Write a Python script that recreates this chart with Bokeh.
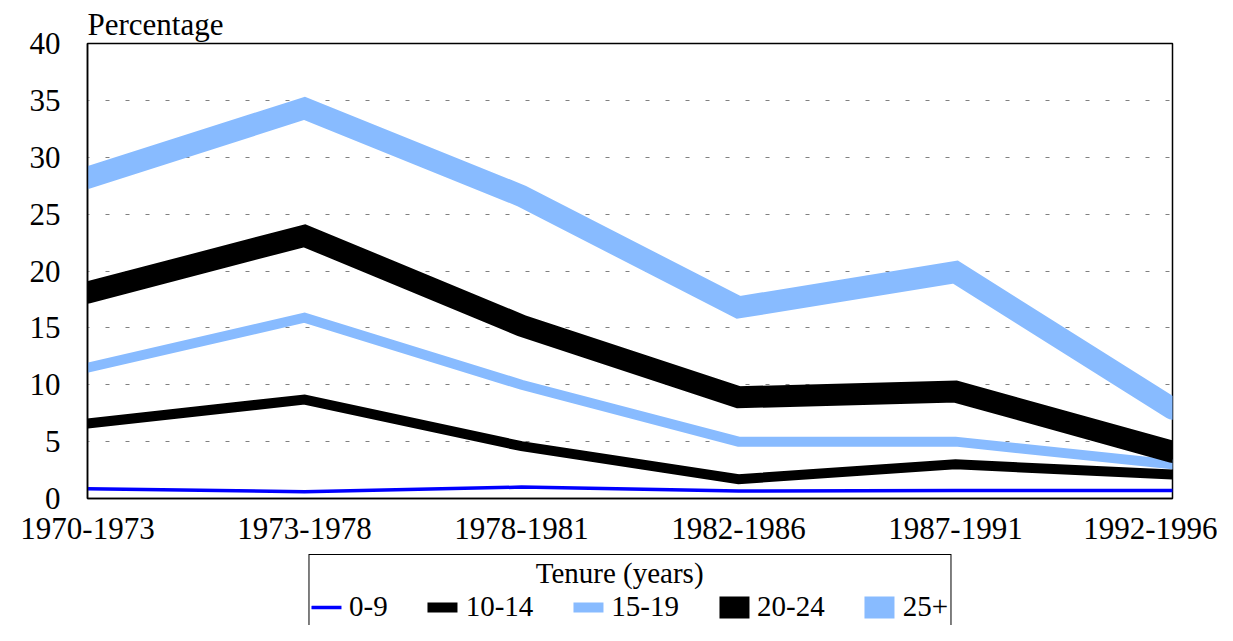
from bokeh.plotting import figure
from bokeh.models import Range1d, FixedTicker, Legend, LegendItem
from bokeh.layouts import column
from bokeh.embed import file_html
from bokeh.resources import INLINE

# ---- data ----
periods = ["1970-1973", "1973-1978", "1978-1981", "1982-1986", "1987-1991", "1992-1996"]
tenure_0_9 = [0.85, 0.6, 1.0, 0.65, 0.7, 0.7]
tenure_10_14 = [6.6, 8.7, 4.6, 1.7, 3.0, 2.1]
tenure_15_19 = [11.5, 15.9, 10.0, 5.0, 5.0, 3.0]
tenure_20_24 = [18.1, 23.1, 15.2, 8.9, 9.4, 4.1]
tenure_25_plus = [28.2, 34.3, 26.6, 16.8, 19.9, 7.9]
series_labels = ["0-9", "10-14", "15-19", "20-24", "25+"]
y_ticks = [0, 5, 10, 15, 20, 25, 30, 35, 40]
y_axis_title = "Percentage"
legend_title = "Tenure (years)"

FONT = "Liberation Serif"
FS = "31px"
LFS = "29px"

x = list(range(len(periods)))
series = [tenure_0_9, tenure_10_14, tenure_15_19, tenure_20_24, tenure_25_plus]
colors = ["#0000FF", "#000000", "#88BBFF", "#000000", "#88BBFF"]
widths = [3.5, 10, 10, 22, 22]

# ---- main chart ----
p = figure(width=1217, height=553, output_backend="svg", toolbar_location=None,
           x_range=Range1d(0, len(periods) - 1), y_range=Range1d(0, 40),
           min_border_left=87, min_border_right=45, min_border_top=43,
           min_border_bottom=55, background_fill_color="white",
           border_fill_color="white")

p.title.text = y_axis_title
p.title.text_font = FONT
p.title.text_font_size = FS
p.title.text_font_style = "normal"
p.title.text_color = "black"
p.title.align = "left"
p.title.standoff = 3
p.title.offset = 0

p.outline_line_color = "black"
p.outline_line_width = 1.5

p.xaxis.ticker = FixedTicker(ticks=x)
p.xaxis.major_label_overrides = {i: lab for i, lab in zip(x, periods)}
p.yaxis.ticker = FixedTicker(ticks=y_ticks)
for ax in (p.xaxis, p.yaxis):
    ax.axis_line_color = "black"
    ax.axis_line_width = 1.5
    ax.major_tick_line_color = None
    ax.minor_tick_line_color = None
    ax.major_tick_out = 0
    ax.major_tick_in = 0
    ax.major_label_text_font = FONT
    ax.major_label_text_font_size = FS
    ax.major_label_text_color = "black"
p.yaxis.major_label_standoff = 27
p.xaxis.major_label_standoff = 19

p.xgrid.grid_line_color = None
p.ygrid.grid_line_color = "#808080"
p.ygrid.grid_line_dash = "4 16"
p.ygrid.grid_line_dash_offset = 2
p.ygrid.grid_line_width = 1

for vals, col, w in zip(series, colors, widths):
    p.line(x, vals, line_color=col, line_width=w, line_join="miter", line_cap="round")

# ---- legend strip (same series, drawn outside its visible range) ----
p2 = figure(width=1217, height=72, output_backend="svg", toolbar_location=None,
            x_range=Range1d(0, len(periods) - 1), y_range=Range1d(100, 200),
            x_axis_type=None, y_axis_type=None,
            min_border_left=87, min_border_right=45, min_border_top=0, min_border_bottom=0,
            background_fill_color="white", border_fill_color="white")
p2.outline_line_color = None
p2.grid.visible = False

items = []
for vals, col, w, lab in zip(series, colors, widths, series_labels):
    r = p2.line(x, vals, line_color=col, line_width=w, line_cap="round")
    items.append(LegendItem(label=lab, renderers=[r]))

pad = "\u00a0" * 31
legend = Legend(items=items, orientation="horizontal", location="top_center",
                title=pad + legend_title,
                title_text_font=FONT, title_text_font_size=LFS, title_text_font_style="normal",
                title_text_color="black", title_standoff=0,
                label_text_font=FONT, label_text_font_size=LFS, label_text_color="black",
                glyph_width=30, glyph_height=24, label_standoff=8, spacing=40,
                padding=2, margin=1,
                border_line_color="black", border_line_alpha=1.0, border_line_width=1.5,
                background_fill_color="white", background_fill_alpha=1.0)
p2.add_layout(legend, "center")

layout = column(p, p2, spacing=0)
open("out.html", "w").write(file_html(layout, INLINE))
